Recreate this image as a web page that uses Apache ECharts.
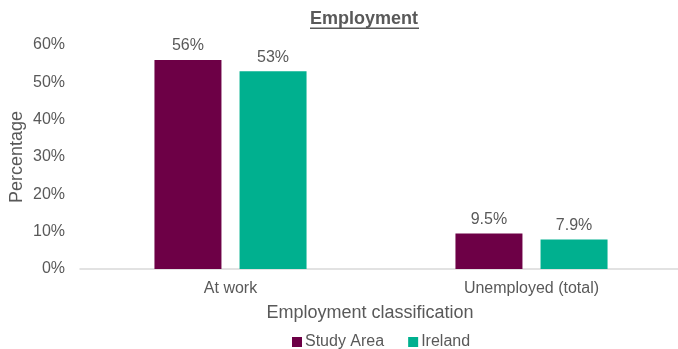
<!DOCTYPE html>
<html>
<head>
<meta charset="utf-8">
<script src="https://cdn.jsdelivr.net/npm/echarts@6/dist/echarts.min.js"></script>
<style>html,body{margin:0;padding:0;background:#fff}#c{width:678px;height:349px}</style>
</head>
<body>
<div id="c"></div>
<script>
const categories = ['At work', 'Unemployed (total)'];
const studyArea = [56, 9.5];
const ireland = [53, 7.9];
const studyLabels = ['56%', '9.5%'];
const irelandLabels = ['53%', '7.9%'];
const yTicks = [0, 10, 20, 30, 40, 50, 60];

const txt = '#595959';
const font = '"Liberation Sans", Arial, sans-serif';
const chart = echarts.init(document.getElementById('c'));
chart.setOption({
  animation: false,
  textStyle: { fontFamily: font, color: txt },
  graphic: [
    { type: 'text', left: 310, top: 10, style: { text: 'Employment', font: 'bold 18px ' + font, fill: txt } },
    { type: 'rect', left: 310, top: 27.5, shape: { width: 109, height: 1.5 }, style: { fill: txt } }
  ],
  grid: { left: 80, right: -4, top: 45, bottom: 80, containLabel: false, outerBoundsMode: 'none' },
  legend: {
    left: 287, top: 329,
    icon: 'rect', itemWidth: 10, itemHeight: 10, itemGap: 24,
    textStyle: { fontSize: 16, color: txt, fontFamily: font, padding: [0, 0, 0, -2] },
    data: ['Study Area', 'Ireland']
  },
  xAxis: {
    type: 'category', data: categories,
    name: 'Employment classification', nameLocation: 'middle', nameGap: 35,
    nameTextStyle: { fontSize: 18, color: txt, fontFamily: font, padding: [0, 22, 0, 0] },
    axisLine: { lineStyle: { color: '#d9d9d9', width: 1.5 } },
    axisTick: { show: false },
    axisLabel: { fontSize: 16, color: txt, margin: 12, fontFamily: font }
  },
  yAxis: {
    type: 'value', min: yTicks[0], max: yTicks[yTicks.length - 1], interval: 10,
    name: 'Percentage', nameLocation: 'middle', nameGap: 54, nameMoveOverlap: false,
    nameTextStyle: { fontSize: 18, color: txt, fontFamily: font },
    axisLine: { show: false }, axisTick: { show: false },
    splitLine: { show: false },
    axisLabel: { fontSize: 16, color: txt, margin: 15, fontFamily: font, formatter: v => v + '%' }
  },
  series: [
    {
      name: 'Study Area', type: 'bar', data: studyArea, barWidth: 67, barGap: '27%',
      itemStyle: { color: '#6D0046' },
      label: { show: true, position: 'top', distance: 6, fontSize: 16, color: txt, fontFamily: font,
        formatter: p => studyLabels[p.dataIndex] }
    },
    {
      name: 'Ireland', type: 'bar', data: ireland, barWidth: 67,
      itemStyle: { color: '#00B08F' },
      label: { show: true, position: 'top', distance: 6, fontSize: 16, color: txt, fontFamily: font,
        formatter: p => irelandLabels[p.dataIndex] }
    }
  ]
});
</script>
</body>
</html>
